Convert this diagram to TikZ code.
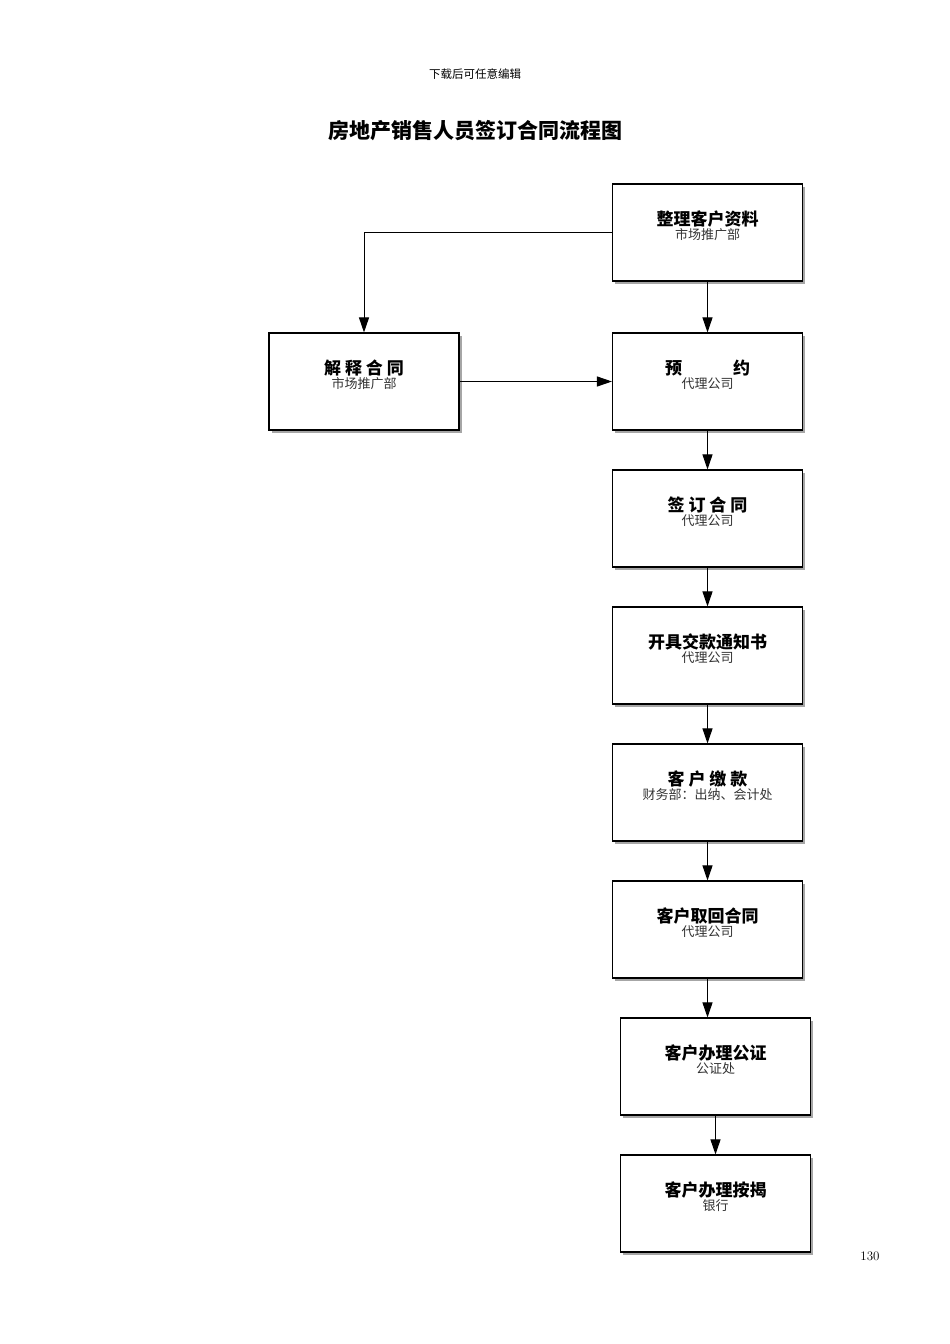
\documentclass[tikz,border=0pt]{standalone}
\usepackage{fontspec}
\newfontfamily\cjk{Noto Sans CJK SC}
\usetikzlibrary{shadows,arrows.meta}
\tikzset{
 box/.style={draw,line width=1.1pt,fill=white,minimum width=190pt,minimum height=97pt,inner sep=0pt,
   drop shadow={shadow xshift=2.5pt,shadow yshift=-2.5pt,fill=gray!70,opacity=1}},
 lab/.style={anchor=north,align=center,inner sep=0pt,font=\cjk\fontsize{17}{19}\selectfont\bfseries},
 arr/.style={-{Triangle[length=15pt,width=10pt]},line width=1pt},
}
\newcommand{\sub}[1]{\\[-5pt]{\fontsize{13}{15}\selectfont\mdseries\color{black!80}#1}}
\begin{document}
\begin{tikzpicture}[x=1pt,y=-1pt]
\useasboundingbox (0,0) rectangle (950,1344);
\node[font=\cjk\fontsize{11.5}{13}\selectfont] (hdr) at (475,74) {下载后可任意编辑};
\node[font=\cjk\fontsize{21}{24}\selectfont\bfseries] (title) at (475,131) {房地产销售人员签订合同流程图};
\node[font=\fontsize{13}{15}\selectfont] (pg) at (870,1256) {130};
\foreach \n/\x/\y/\a/\b in {
 b1/707.5/232.5/整理客户资料/市场推广部,
 b2/707.5/381.5/预\hspace{3em}约/代理公司,
 b0/364/381.5/解\ 释\ 合\ 同/市场推广部,
 b3/707.5/518.5/签\ 订\ 合\ 同/代理公司,
 b4/707.5/655.5/开具交款通知书/代理公司,
 b5/707.5/792.5/客\ 户\ 缴\ 款/财务部：出纳、会计处,
 b6/707.5/929.5/客户取回合同/代理公司,
 b7/715.5/1066.5/客户办理公证/公证处,
 b8/715.5/1203.5/客户办理按揭/银行}{
 \node[box] (\n) at (\x,\y) {};
 \node[lab] (\n t) at ([yshift=-27pt]\n.north) {\a\sub{\b}};
}
\draw[arr] (b1.west) -| (b0.north);
\draw[arr] (b1.south) -- (b2.north);
\draw[arr] (b0.east) -- (b2.west);
\draw[arr] (b2.south) -- (b3.north);
\draw[arr] (b3.south) -- (b4.north);
\draw[arr] (b4.south) -- (b5.north);
\draw[arr] (b5.south) -- (b6.north);
\draw[arr] (b6.south) -- (b6.south |- b7.north);
\draw[arr] (b7.south) -- (b8.north);
\end{tikzpicture}
\end{document}
